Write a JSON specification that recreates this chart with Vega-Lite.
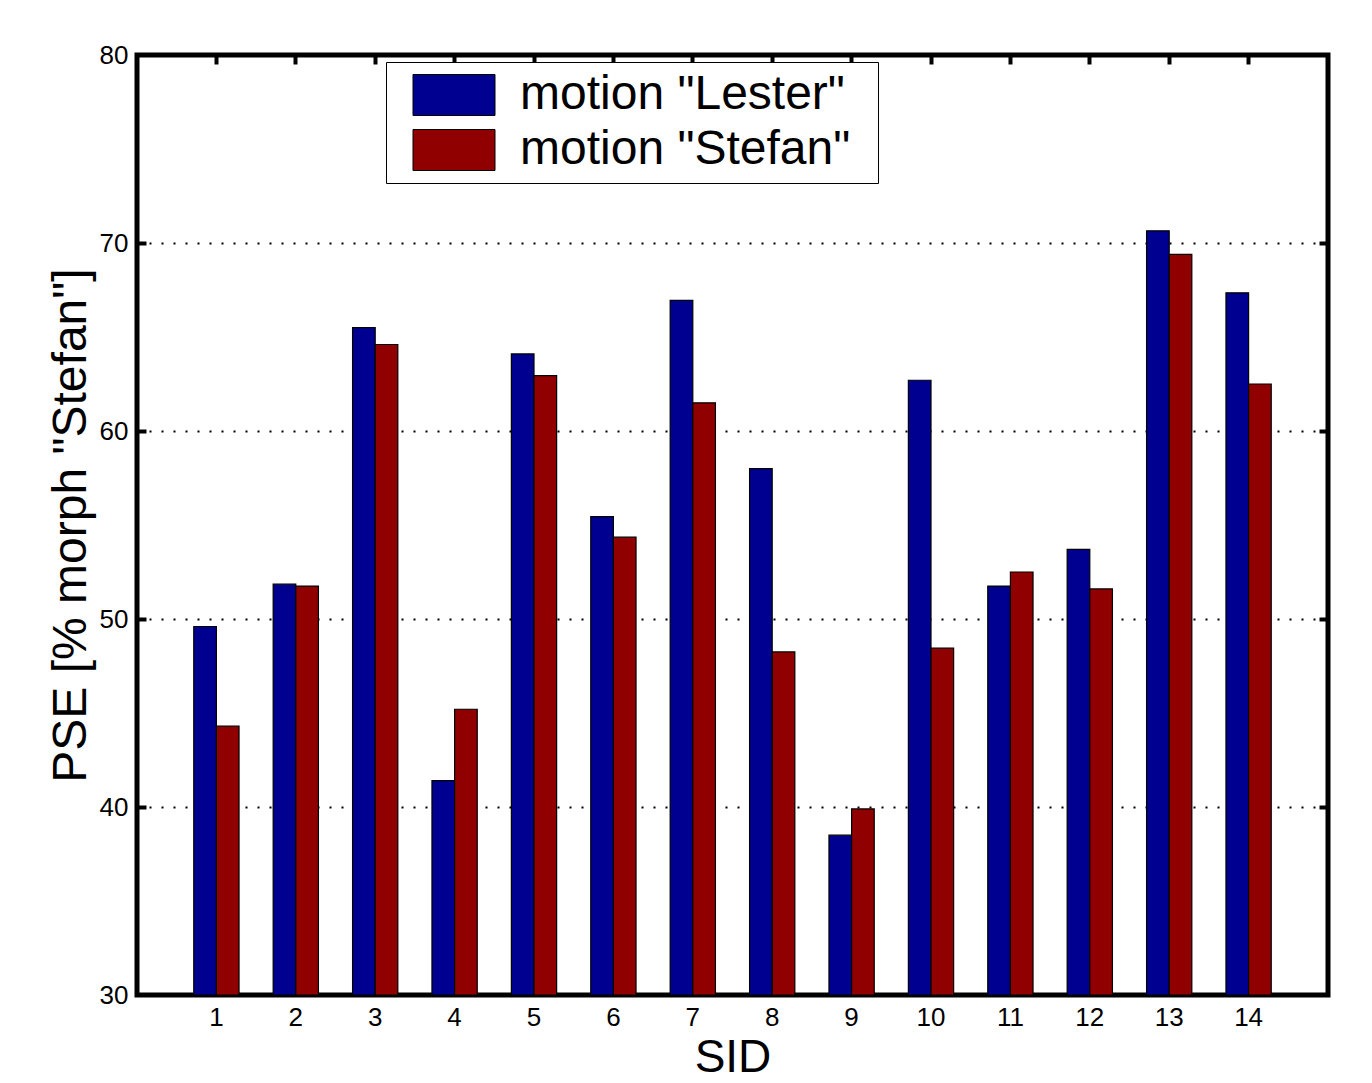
{
  "$schema": "https://vega.github.io/schema/vega-lite/v6.json",
  "width": 1191,
  "height": 940,
  "autosize": "none",
  "padding": {"left": 137, "top": 55, "right": 44, "bottom": 88},
  "background": "white",
  "config": {
    "font": "Liberation Sans",
    "view": {"stroke": "black", "strokeWidth": 5},
    "axis": {
      "domain": false,
      "labelFont": "Liberation Sans",
      "titleFont": "Liberation Sans",
      "labelColor": "black",
      "titleColor": "black",
      "tickColor": "black",
      "titleFontWeight": "normal"
    }
  },
  "data": {
    "values": [
      {"SID": 1, "motion": "motion \"Lester\"", "PSE": 49.6},
      {"SID": 1, "motion": "motion \"Stefan\"", "PSE": 44.3},
      {"SID": 2, "motion": "motion \"Lester\"", "PSE": 51.85},
      {"SID": 2, "motion": "motion \"Stefan\"", "PSE": 51.75},
      {"SID": 3, "motion": "motion \"Lester\"", "PSE": 65.5},
      {"SID": 3, "motion": "motion \"Stefan\"", "PSE": 64.6},
      {"SID": 4, "motion": "motion \"Lester\"", "PSE": 41.4},
      {"SID": 4, "motion": "motion \"Stefan\"", "PSE": 45.2},
      {"SID": 5, "motion": "motion \"Lester\"", "PSE": 64.1},
      {"SID": 5, "motion": "motion \"Stefan\"", "PSE": 62.95},
      {"SID": 6, "motion": "motion \"Lester\"", "PSE": 55.45},
      {"SID": 6, "motion": "motion \"Stefan\"", "PSE": 54.35},
      {"SID": 7, "motion": "motion \"Lester\"", "PSE": 66.95},
      {"SID": 7, "motion": "motion \"Stefan\"", "PSE": 61.5},
      {"SID": 8, "motion": "motion \"Lester\"", "PSE": 58.0},
      {"SID": 8, "motion": "motion \"Stefan\"", "PSE": 48.25},
      {"SID": 9, "motion": "motion \"Lester\"", "PSE": 38.5},
      {"SID": 9, "motion": "motion \"Stefan\"", "PSE": 39.9},
      {"SID": 10, "motion": "motion \"Lester\"", "PSE": 62.7},
      {"SID": 10, "motion": "motion \"Stefan\"", "PSE": 48.45},
      {"SID": 11, "motion": "motion \"Lester\"", "PSE": 51.75},
      {"SID": 11, "motion": "motion \"Stefan\"", "PSE": 52.5},
      {"SID": 12, "motion": "motion \"Lester\"", "PSE": 53.7},
      {"SID": 12, "motion": "motion \"Stefan\"", "PSE": 51.6},
      {"SID": 13, "motion": "motion \"Lester\"", "PSE": 70.65},
      {"SID": 13, "motion": "motion \"Stefan\"", "PSE": 69.4},
      {"SID": 14, "motion": "motion \"Lester\"", "PSE": 67.35},
      {"SID": 14, "motion": "motion \"Stefan\"", "PSE": 62.5}
    ]
  },
  "layer": [
    {
      "mark": {"type": "bar", "stroke": "black", "strokeWidth": 1.2},
      "encoding": {
        "x": {
          "field": "SID",
          "type": "ordinal",
          "scale": {"paddingInner": 0.43, "paddingOuter": 0.715},
          "axis": {
            "orient": "bottom",
            "title": "SID",
            "labelAngle": 0,
            "labelFontSize": 26,
            "titleFontSize": 46,
            "labelPadding": 9,
            "titlePadding": 5,
            "ticks": false
          }
        },
        "xOffset": {"field": "motion", "type": "nominal"},
        "y": {
          "field": "PSE",
          "type": "quantitative",
          "scale": {"domain": [30, 80], "nice": false, "zero": false},
          "axis": {
            "orient": "left",
            "title": "PSE [% morph \"Stefan\"]",
            "values": [30, 40, 50, 60, 70, 80],
            "labelFontSize": 26,
            "titleFontSize": 48,
            "labelPadding": 9,
            "titlePadding": 4,
            "ticks": false,
            "grid": true,
            "gridColor": "black",
            "gridWidth": 2,
            "gridDash": [2, 10],
            "gridOpacity": 1
          }
        },
        "y2": {"datum": 30},
        "color": {
          "field": "motion",
          "type": "nominal",
          "scale": {"domain": ["motion \"Lester\"", "motion \"Stefan\""], "range": ["#000090", "#900000"]},
          "legend": {
            "orient": "none",
            "legendX": 249,
            "legendY": 7,
            "title": " ",
            "titleOrient": "right",
            "titleFontSize": 10,
            "titleOpacity": 0,
            "titlePadding": 19,
            "fillColor": "white",
            "strokeColor": "black",
            "padding": 9,
            "labelFontSize": 48,
            "labelColor": "black",
            "labelFont": "Liberation Sans",
            "labelLimit": 600,
            "symbolType": "M-2,-1H2V1H-2Z",
            "symbolSize": 1681,
            "symbolStrokeColor": "black",
            "symbolStrokeWidth": 1,
            "symbolOpacity": 1,
            "symbolOffset": 35,
            "labelOffset": 42,
            "rowPadding": 7
          }
        }
      }
    },
    {
      "mark": {"type": "tick", "opacity": 0},
      "encoding": {
        "x": {
          "field": "SID",
          "type": "ordinal",
          "axis": {
            "orient": "top",
            "title": null,
            "labels": false,
            "ticks": true,
            "tickSize": -9,
            "tickWidth": 4,
            "grid": false
          }
        },
        "y": {
          "field": "PSE",
          "type": "quantitative",
          "axis": {
            "orient": "right",
            "title": null,
            "labels": false,
            "values": [40, 50, 60, 70],
            "ticks": true,
            "tickSize": -9,
            "tickWidth": 4,
            "grid": false
          }
        }
      }
    },
    {
      "mark": {"type": "tick", "opacity": 0},
      "encoding": {
        "y": {
          "field": "PSE",
          "type": "quantitative",
          "axis": {
            "orient": "left",
            "title": null,
            "labels": false,
            "values": [40, 50, 60, 70],
            "ticks": true,
            "tickSize": -9,
            "tickWidth": 4,
            "grid": false
          }
        }
      }
    }
  ],
  "resolve": {"axis": {"x": "independent", "y": "independent"}}
}
